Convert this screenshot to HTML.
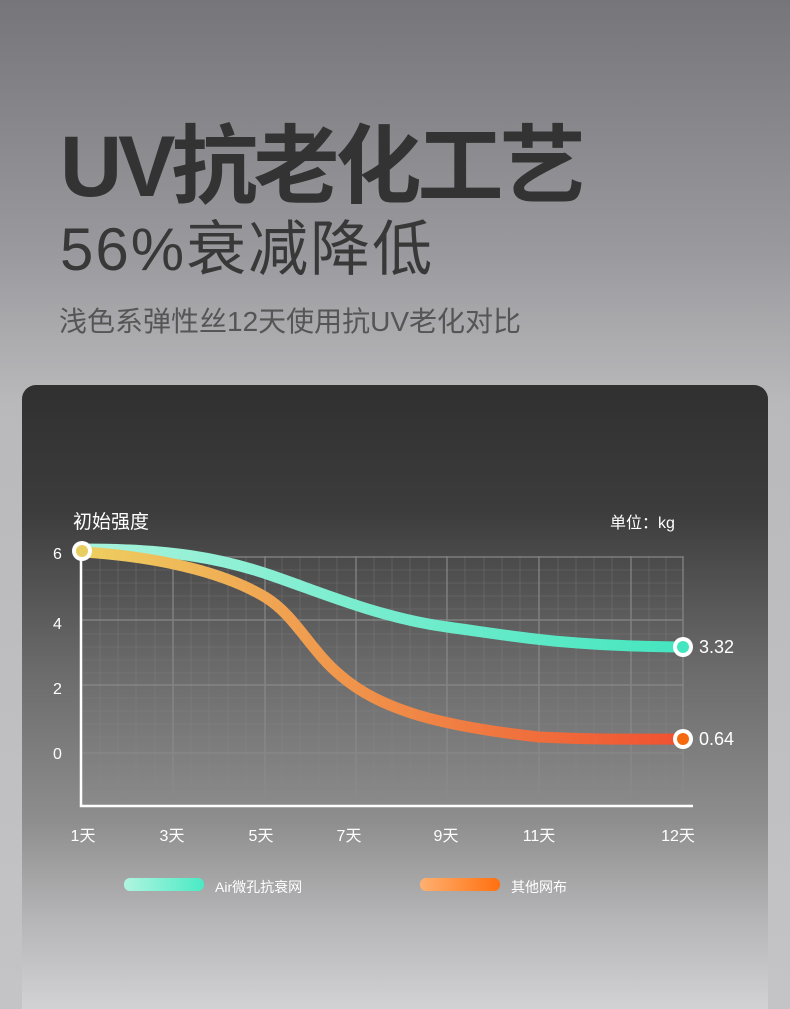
<!DOCTYPE html>
<html style="overflow:hidden"><head><meta charset="utf-8"><style>
*{margin:0;padding:0;box-sizing:border-box}
html,body{width:790px;height:1009px;overflow:hidden}
body{position:relative;background:linear-gradient(#76767a 0%,#9a9a9e 25%,#b9b9bc 40%,#c4c4c6 100%);font-family:"Liberation Sans","Noto Sans CJK SC",sans-serif}
.t1{position:absolute;left:60px;top:112px;font-size:86px;font-weight:bold;color:#333;letter-spacing:-4px;line-height:110px;white-space:nowrap}
.t2{position:absolute;left:60px;top:210px;font-size:60px;color:#383838;letter-spacing:2px;line-height:80px;white-space:nowrap}
.t3{position:absolute;left:59px;top:302px;font-size:28px;color:#555;line-height:40px;white-space:nowrap}
.card{position:absolute;left:22px;top:385px;width:746px;height:624px;border-radius:14px 14px 0 0;background:linear-gradient(#303030 0%,#3c3c3c 20%,#6a6a6a 45%,#8e8e8e 70%,#b4b4b6 85%,#d2d2d4 100%)}
svg{position:absolute;left:0;top:0}
</style></head><body>
<div class="t1">UV抗老化工艺</div>
<div class="t2">56%衰减降低</div>
<div class="t3">浅色系弹性丝12天使用抗UV老化对比</div>
<div class="card"></div>
<svg width="790" height="1009" viewBox="0 0 790 1009">
<defs>
<linearGradient id="g" x1="0" x2="1"><stop offset="0" stop-color="#a8f3dc"/><stop offset="1" stop-color="#44e6bf"/></linearGradient>
<linearGradient id="o" x1="0" x2="1"><stop offset="0" stop-color="#eed060"/><stop offset="0.35" stop-color="#f0a050"/><stop offset="1" stop-color="#f05030"/></linearGradient>
<linearGradient id="lg" x1="0" x2="1"><stop offset="0" stop-color="#b0f5e0"/><stop offset="1" stop-color="#4aeac4"/></linearGradient>
<linearGradient id="lo" x1="0" x2="1"><stop offset="0" stop-color="#ffb070"/><stop offset="1" stop-color="#ff7010"/></linearGradient>
</defs>
<g stroke="#8a8a8a" stroke-width="0.6" opacity="0.5">
<path d="M100 556V805M118 556V805M136 556V805M155 556V805M191 556V805M209 556V805M228 556V805M246 556V805M282 556V805M300 556V805M319 556V805M337 556V805M374 556V805M392 556V805M410 556V805M429 556V805M465 556V805M484 556V805M502 556V805M520 556V805M558 556V805M576 556V805M594 556V805M612 556V805M649 556V805M666 556V805"/>
<path d="M82 570H683M82 583H683M82 596H683M82 609H683M82 634H683M82 647H683M82 660H683M82 673H683M82 698H683M82 711H683M82 724H683M82 737H683M82 766H683M82 779H683M82 792H683"/>
</g>
<g stroke="#8a8a8a" stroke-width="1.5" opacity="0.8">
<path d="M173 556V805M265 556V805M356 556V805M447 556V805M539 556V805M631 556V805M683 556V805"/>
<path d="M82 557H683M82 620H683M82 685H683M82 753H683"/>
</g>
<path d="M81 552V806H693" stroke="#fff" stroke-width="2.5" fill="none"/>
<path d="M82 549C170 549 220 558 270 575S380 618 447 627S560 646 683 647" stroke="url(#g)" stroke-width="11" fill="none" stroke-linecap="round"/>
<path d="M82 552C150 556 220 570 265 597C295 615 310 650 340 675C380 710 440 726 539 737C600 740 640 739 683 739" stroke="url(#o)" stroke-width="11" fill="none" stroke-linecap="round"/>
<circle cx="82" cy="551" r="10" fill="#fff"/><circle cx="82" cy="551" r="6" fill="#e8cd60"/>
<circle cx="683" cy="647" r="10" fill="#fff"/><circle cx="683" cy="647" r="6" fill="#44e6bf"/>
<circle cx="683" cy="739" r="10" fill="#fff"/><circle cx="683" cy="739" r="6" fill="#f56a10"/>
<g fill="#fff" font-family="Liberation Sans,Noto Sans CJK SC,sans-serif">
<text x="73" y="528" font-size="19">初始强度</text>
<text x="610" y="528" font-size="16">单位：kg</text>
<text x="53" y="559" font-size="16">6</text>
<text x="53" y="629" font-size="16">4</text>
<text x="53" y="694" font-size="16">2</text>
<text x="53" y="759" font-size="16">0</text>
<text x="699" y="653" font-size="18">3.32</text>
<text x="699" y="745" font-size="18">0.64</text>
<g font-size="16" text-anchor="middle">
<text x="83" y="841">1天</text><text x="172" y="841">3天</text><text x="261" y="841">5天</text><text x="349" y="841">7天</text><text x="446" y="841">9天</text><text x="539" y="841">11天</text><text x="678" y="841">12天</text>
</g>
<text x="215" y="892" font-size="14">Air微孔抗衰网</text>
<text x="511" y="892" font-size="14">其他网布</text>
</g>
<rect x="124" y="878" width="80" height="13" rx="6" fill="url(#lg)"/>
<rect x="420" y="878" width="80" height="13" rx="6" fill="url(#lo)"/>
</svg>
</body></html>
